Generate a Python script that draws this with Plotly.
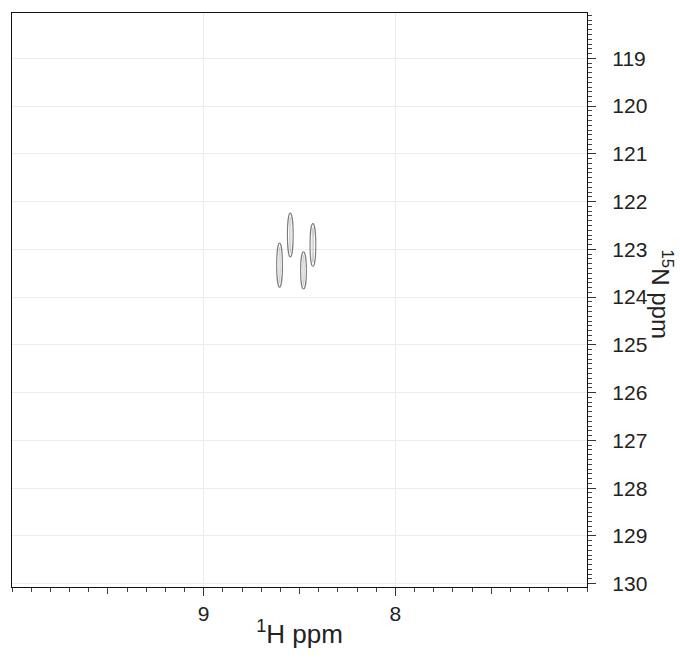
import plotly.graph_objects as go

# Peak list: 1H / 15N chemical shifts (ppm) and half linewidths (ppm)
peak_h = [8.604, 8.548, 8.430, 8.479]
peak_n = [123.33, 122.70, 122.91, 123.44]
half_lw_h = [0.015, 0.015, 0.015, 0.015]
half_lw_n = [0.46, 0.46, 0.45, 0.39]

# Axis labels / ticks
h_ticks = [9, 8]
h_mid_ticks = [9.5, 8.5, 7.5]
n_ticks = list(range(119, 131))
h_range = [10.0, 7.0]
n_range = [130.07, 118.05]

FONT = "Liberation Sans, Arial, Helvetica, sans-serif"

fig = go.Figure()

# Contour levels drawn as nested ellipses (outer -> inner)
levels = [(1.0, 1.0, "#7a7a7a", 1.1), (0.25, 0.8, "#b8b8b8", 0.7)]
shapes = []
for h, n, wh, wn in zip(peak_h, peak_n, half_lw_h, half_lw_n):
    for fx, fy, col, lw in levels:
        shapes.append(dict(
            type="circle", xref="x", yref="y",
            x0=h - wh * fx, x1=h + wh * fx,
            y0=n - wn * fy, y1=n + wn * fy,
            line=dict(color=col, width=lw),
            layer="above",
        ))

# invisible carriers so both x axes (integer and half-ppm ticks) are drawn
fig.add_trace(go.Scatter(x=[h_range[0]], y=[n_range[0]], mode="markers",
                         marker=dict(size=1, color="rgba(0,0,0,0)"),
                         hoverinfo="skip", showlegend=False))
fig.add_trace(go.Scatter(x=[h_range[0]], y=[n_range[0]], xaxis="x2", mode="markers",
                         marker=dict(size=1, color="rgba(0,0,0,0)"),
                         hoverinfo="skip", showlegend=False))

fig.update_layout(
    width=680, height=658,
    margin=dict(l=12, r=93, t=13, b=71),
    paper_bgcolor="white", plot_bgcolor="white",
    font=dict(family=FONT, color="#222"),
    shapes=shapes,
    xaxis=dict(
        range=h_range, tickvals=h_ticks, ticks="outside", ticklen=8,
        tickcolor="#333", tickwidth=1,
        showgrid=True, gridcolor="#ececec", gridwidth=1, zeroline=False,
        showline=True, linecolor="#111", linewidth=1.2, mirror=True,
        tickfont=dict(size=21, family=FONT, color="#222"),
        minor=dict(dtick=0.1, tick0=0, ticks="outside", ticklen=4,
                   tickcolor="#444", showgrid=False),
        title=dict(text="<sup>1</sup>H ppm", font=dict(size=26, family=FONT, color="#222"),
                   standoff=0),
    ),
    xaxis2=dict(
        overlaying="x", anchor="y", side="bottom", range=h_range,
        tickvals=h_mid_ticks, ticks="outside", ticklen=6, tickcolor="#444",
        showticklabels=False, showgrid=False, zeroline=False, showline=False,
    ),
    yaxis=dict(
        range=n_range, side="right", tickvals=n_ticks, ticks="outside", ticklen=8,
        tickcolor="#333", tickwidth=1, ticklabelstandoff=12,
        showgrid=True, gridcolor="#ececec", gridwidth=1, zeroline=False,
        showline=True, linecolor="#111", linewidth=1.2, mirror=True,
        tickfont=dict(size=21, family=FONT, color="#222"),
        minor=dict(dtick=0.1, tick0=0, ticks="outside", ticklen=4,
                   tickcolor="#444", showgrid=False),
    ),
    annotations=[dict(
        text="<sup>15</sup>N ppm", textangle=90, xref="paper", yref="paper",
        x=1.13, y=0.51, xanchor="center", yanchor="middle", showarrow=False,
        font=dict(size=24, family=FONT, color="#222"),
    )],
)

fig.write_html("out.html")
